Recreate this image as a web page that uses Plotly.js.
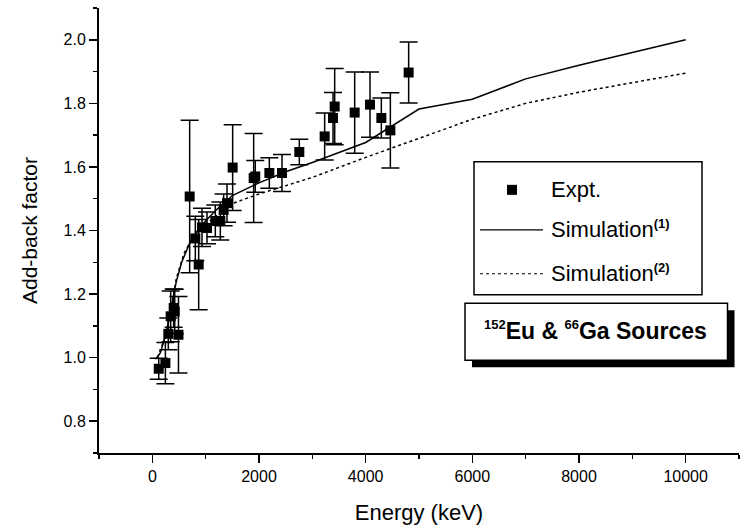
<!DOCTYPE html>
<html>
<head>
<meta charset="utf-8">
<script src="https://cdn.plot.ly/plotly-3.0.1.min.js"></script>
<style>html,body{margin:0;padding:0;background:#fff;}#chart{width:743px;height:525px;}</style>
</head>
<body>
<div id="chart"></div>
<script>
// Experimental add-back factors (152Eu & 66Ga sources)
const expEnergy = [120, 245, 300, 490, 344, 400, 420, 700, 806, 869, 931, 1025, 1181, 1275, 1337, 1400, 1506, 1900, 1930, 2194, 2431, 2756, 3231, 3388, 3419, 3794, 4081, 4294, 4463, 4806];
const expFactor = [0.965, 0.983, 1.075, 1.072, 1.13, 1.156, 1.145, 1.507, 1.375, 1.293, 1.41, 1.408, 1.43, 1.43, 1.465, 1.486, 1.598, 1.565, 1.57, 1.581, 1.581, 1.647, 1.696, 1.754, 1.79, 1.771, 1.796, 1.754, 1.715, 1.897];
const expError  = [0.033, 0.065, 0.05, 0.12, 0.08, 0.06, 0.07, 0.24, 0.07, 0.142, 0.06, 0.05, 0.05, 0.06, 0.05, 0.06, 0.135, 0.14, 0.05, 0.048, 0.058, 0.04, 0.074, 0.08, 0.12, 0.128, 0.103, 0.063, 0.118, 0.096];

// Simulation (1) - solid
const sim1Energy = [60, 150, 250, 350, 450, 550, 700, 850, 1000, 1200, 1500, 2000, 2500, 3000, 4000, 5000, 6000, 7000, 8000, 9000, 10000];
const sim1Factor = [0.995, 1.015, 1.07, 1.16, 1.24, 1.30, 1.36, 1.40, 1.43, 1.465, 1.51, 1.55, 1.585, 1.614, 1.677, 1.782, 1.813, 1.877, 1.92, 1.96, 2.0];

// Simulation (2) - dotted
const sim2Energy = [100, 250, 350, 450, 600, 800, 1000, 1200, 1500, 2000, 2500, 3000, 4000, 5000, 6000, 7000, 8000, 9000, 10000];
const sim2Factor = [1.0, 1.07, 1.15, 1.25, 1.33, 1.39, 1.42, 1.445, 1.485, 1.515, 1.54, 1.567, 1.63, 1.69, 1.75, 1.80, 1.835, 1.865, 1.895];

const xTickVals = [0, 2000, 4000, 6000, 8000, 10000];
const yTickVals = [0.8, 1.0, 1.2, 1.4, 1.6, 1.8, 2.0];

const FONT = "Liberation Sans, Arial, Helvetica, sans-serif";

const traces = [
  {x: sim1Energy, y: sim1Factor, mode: 'lines', name: 'Simulation(1)',
   line: {color: '#000', width: 1.5}},
  {x: sim2Energy, y: sim2Factor, mode: 'lines', name: 'Simulation(2)',
   line: {color: '#000', width: 1.5, dash: 'dot'}},
  {x: expEnergy, y: expFactor, mode: 'markers', name: 'Expt.',
   marker: {symbol: 'square', size: 10, color: '#000'},
   error_y: {type: 'data', array: expError, visible: true, color: '#000', thickness: 1.5, width: 9}}
];

// pixel -> paper helpers for the drawn legend / label box
const PL = 99, PR = 739, PT = 8, PB = 453.4;
const px = v => (v - PL) / (PR - PL);
const py = v => (PB - v) / (PB - PT);

const shapes = [
  // legend box
  {type: 'rect', xref: 'paper', yref: 'paper', x0: px(474), x1: px(702), y0: py(162), y1: py(295),
   line: {color: '#000', width: 1.5}, fillcolor: '#fff', layer: 'above'},
  {type: 'rect', xref: 'paper', yref: 'paper', x0: px(507), x1: px(517), y0: py(185), y1: py(195),
   line: {width: 0}, fillcolor: '#000', layer: 'above'},
  {type: 'line', xref: 'paper', yref: 'paper', x0: px(480), x1: px(543), y0: py(230), y1: py(230),
   line: {color: '#000', width: 1.2}, layer: 'above'},
  {type: 'line', xref: 'paper', yref: 'paper', x0: px(480), x1: px(543), y0: py(274), y1: py(274),
   line: {color: '#000', width: 1.2, dash: 'dot'}, layer: 'above'},
  // label box shadow + box
  {type: 'rect', xref: 'paper', yref: 'paper', x0: px(472), x1: px(734.5), y0: py(310.5), y1: py(367.5),
   line: {width: 0}, fillcolor: '#000', layer: 'above'},
  {type: 'rect', xref: 'paper', yref: 'paper', x0: px(465), x1: px(727.5), y0: py(303.5), y1: py(360.5),
   line: {color: '#000', width: 1.5}, fillcolor: '#fff', layer: 'above'}
];

const annotations = [
  {xref: 'paper', yref: 'paper', x: px(549), y: py(190), xanchor: 'left', yanchor: 'middle', showarrow: false,
   text: 'Expt.', font: {family: FONT, size: 22, color: '#000'}},
  {xref: 'paper', yref: 'paper', x: px(549), y: py(229), xanchor: 'left', yanchor: 'middle', showarrow: false,
   text: 'Simulation<sup><b><span style="font-size:13px">(1)</span></b></sup>', font: {family: FONT, size: 22, color: '#000'}},
  {xref: 'paper', yref: 'paper', x: px(549), y: py(273), xanchor: 'left', yanchor: 'middle', showarrow: false,
   text: 'Simulation<sup><b><span style="font-size:13px">(2)</span></b></sup>', font: {family: FONT, size: 22, color: '#000'}},
  {xref: 'paper', yref: 'paper', x: px(595), y: py(331), xanchor: 'center', yanchor: 'middle', showarrow: false,
   text: '<b><sup><span style="font-size:13px">152</span></sup>Eu &amp; <sup><span style="font-size:13px">66</span></sup>Ga Sources</b>',
   font: {family: FONT, size: 23, color: '#000'}}
];

const layout = {
  width: 743, height: 525,
  margin: {l: 99, r: 4, t: 8, b: 71.6, pad: 0},
  paper_bgcolor: '#fff', plot_bgcolor: '#fff',
  showlegend: false,
  font: {family: FONT, color: '#000'},
  xaxis: {
    range: [-1000, 11000], tickvals: xTickVals, ticktext: xTickVals.map(String),
    ticks: 'outside', ticklen: 8, tickwidth: 1.5, tickcolor: '#000',
    minor: {dtick: 1000, tick0: 0, ticks: 'outside', ticklen: 4, tickwidth: 1.5, tickcolor: '#000', showgrid: false},
    showline: true, linewidth: 2, linecolor: '#000', showgrid: false, zeroline: false,
    tickfont: {family: FONT, size: 16, color: '#000'},
    title: {text: 'Energy (keV)', font: {family: FONT, size: 22, color: '#000'}, standoff: 20}
  },
  yaxis: {
    range: [0.7, 2.1], tickvals: yTickVals, ticktext: yTickVals.map(v => v.toFixed(1)),
    ticks: 'outside', ticklen: 8, tickwidth: 1.5, tickcolor: '#000',
    minor: {dtick: 0.1, tick0: 0.7, ticks: 'outside', ticklen: 4, tickwidth: 1.5, tickcolor: '#000', showgrid: false},
    showline: true, linewidth: 2, linecolor: '#000', showgrid: false, zeroline: false,
    tickfont: {family: FONT, size: 16, color: '#000'},
    title: {text: 'Add-back factor', font: {family: FONT, size: 21, color: '#000'}, standoff: 20}
  },
  shapes: shapes,
  annotations: annotations
};

Plotly.newPlot('chart', traces, layout, {displayModeBar: false, staticPlot: true});
</script>
</body>
</html>
